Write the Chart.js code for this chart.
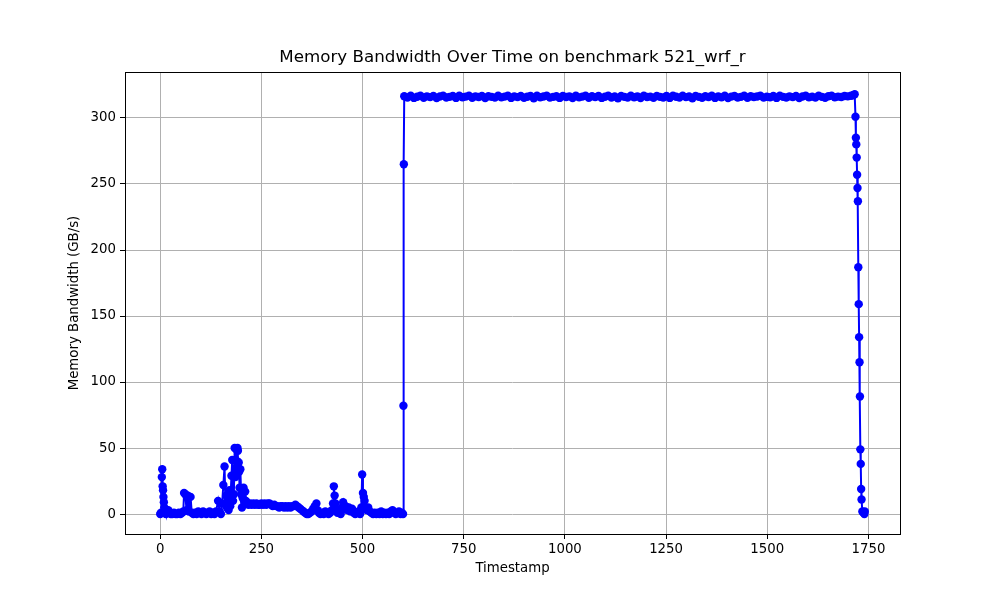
<!DOCTYPE html>
<html>
<head>
<meta charset="utf-8">
<title>Memory Bandwidth Over Time</title>
<script src="https://cdn.jsdelivr.net/npm/chart.js@4"></script>
<style>
  html, body { margin: 0; padding: 0; background: #fff; }
  #bwChart { display: block; }
</style>
</head>
<body>
<canvas id="bwChart" width="1000" height="600"></canvas>
<script>
// Warm-up phase (low bandwidth, noisy)
const warmupTimes = [0, 2, 4, 5, 6, 7, 8, 9, 10, 12, 14, 17, 20, 23, 26, 30, 34, 38, 42, 46, 50, 54, 57, 59, 62, 65, 68, 71, 75, 78,
    82, 86, 90, 94, 98, 102, 106, 110, 114, 118, 122, 126, 130, 134, 138, 143, 147, 150, 153, 156, 159, 161, 163, 165, 167, 169, 171, 173, 176, 178,
    180, 182, 184, 186, 188, 190, 191, 192, 193, 194, 195, 196, 198, 200, 202, 204, 206, 208, 210, 212, 215, 218, 222, 226, 230, 234, 238, 242, 246, 250,
    254, 258, 262, 266, 270, 274, 278, 282, 286, 290, 294, 298, 302, 306, 310, 314, 318, 322, 326, 330, 334, 338, 342, 346, 350, 354, 358, 362, 366, 370,
    374, 378, 382, 386, 389, 392, 396, 400, 404, 408, 412, 416, 420, 424, 427, 429, 431, 433, 435, 438, 442, 446, 449, 452, 455, 458, 462, 466, 470, 474,
    478, 482, 486, 490, 494, 497, 499, 501, 503, 505, 507, 510, 514, 518, 522, 526, 530, 534, 538, 542, 546, 550, 554, 558, 562, 566, 570, 574, 578, 582,
    586, 590, 594, 597, 600, 601, 602];
const warmupBW = [0, 1, 28, 34, 21, 18, 13, 9, 5, 2, 0, 1, 3, 1, 0, 0, 1, 0, 0, 1, 0, 1, 2, 16, 15, 3, 14, 2, 13, 1,
    0, 1, 0, 2, 1, 0, 2, 1, 0, 1, 2, 0, 1, 0, 2, 10, 2, 0, 8, 22, 36, 8, 14, 5, 12, 3, 18, 6, 29, 41,
    10, 15, 50, 28, 49, 40, 50, 48, 35, 39, 32, 20, 34, 15, 5, 12, 20, 9, 17, 10, 8, 7, 8, 7, 8, 7, 8, 7, 7, 8,
    7, 8, 7, 8, 8, 7, 6, 7, 6, 6, 5, 6, 6, 5, 6, 5, 6, 5, 6, 6, 7, 6, 5, 4, 3, 2, 1, 0, 0, 1,
    2, 4, 6, 8, 3, 1, 0, 1, 0, 2, 1, 0, 1, 3, 8, 21, 14, 8, 3, 1, 2, 0, 5, 9, 4, 6, 3, 5, 2, 4,
    1, 0, 1, 2, 0, 5, 30, 16, 13, 10, 5, 3, 5, 2, 1, 0, 1, 0, 1, 0, 2, 0, 1, 0, 1, 0, 2, 3, 1, 0,
    1, 2, 0, 1, 0, 82, 265];

// Steady phase (saturated bandwidth)
const steadyTimes = [603, 611, 619, 627, 635, 643, 651, 659, 667, 675, 683, 691, 699, 707, 715, 723, 731, 739, 747, 755,
    763, 771, 779, 787, 795, 803, 811, 819, 827, 835, 843, 851, 859, 867, 875, 883, 891, 899, 907, 915,
    923, 931, 939, 947, 955, 963, 971, 979, 987, 995, 1003, 1011, 1019, 1027, 1035, 1043, 1051, 1059, 1067, 1075,
    1083, 1091, 1099, 1107, 1115, 1123, 1131, 1139, 1147, 1155, 1163, 1171, 1179, 1187, 1195, 1203, 1211, 1219, 1227, 1235,
    1243, 1251, 1259, 1267, 1275, 1283, 1291, 1299, 1307, 1315, 1323, 1331, 1339, 1347, 1355, 1363, 1371, 1379, 1387, 1395,
    1403, 1411, 1419, 1427, 1435, 1443, 1451, 1459, 1467, 1475, 1483, 1491, 1499, 1507, 1515, 1523, 1531, 1539, 1547, 1555,
    1563, 1571, 1579, 1587, 1595, 1603, 1611, 1619, 1627, 1635, 1643, 1651, 1659, 1667, 1675, 1683, 1691, 1699, 1707, 1712];
const steadyBW = [316.5, 315.4, 316.8, 315.2, 316.1, 316.9, 315.3, 316.4, 315.8, 316.7,
    315.1, 316.3, 316.9, 315.5, 316.0, 316.6, 315.2, 316.8, 315.7, 316.2,
    316.9, 315.3, 316.4, 315.9, 316.7, 315.1, 316.5, 316.0, 315.4, 316.8,
    315.6, 316.2, 316.9, 315.2, 316.4, 315.8, 316.7, 315.3, 316.1, 316.6,
    315.0, 316.8, 315.7, 316.3, 316.9, 315.4, 316.0, 316.5, 315.2, 316.7,
    315.9, 316.4, 315.1, 316.8, 315.6, 316.2, 316.9, 315.3, 316.5, 315.8,
    316.7, 315.2, 316.1, 316.9, 315.5, 316.3, 315.0, 316.6, 316.0, 315.4,
    316.8, 315.7, 316.4, 315.1, 316.9, 315.9, 316.2, 315.3, 316.7, 316.0,
    315.5, 316.6, 315.2, 316.8, 316.1, 315.4, 316.9, 315.8, 316.3, 315.0,
    316.7, 316.0, 315.3, 316.5, 315.9, 316.8, 315.2, 316.4, 315.6, 316.9,
    315.1, 316.2, 316.7, 315.5, 316.0, 316.8, 315.3, 316.5, 315.9, 316.3,
    316.9, 315.4, 316.1, 315.7, 316.6, 315.2, 316.8, 316.0, 315.5, 316.4,
    315.8, 316.7, 315.1, 316.3, 316.9, 315.6, 316.2, 315.4, 316.8, 316.0,
    315.3, 316.5, 316.9, 315.7, 316.2, 315.9, 316.6, 316.4, 316.8, 317.2];

// Ramp-down phase
const rampTimes = [1716, 1718, 1719, 1720, 1721, 1722, 1723, 1724, 1725, 1726, 1727, 1728, 1729, 1730, 1731, 1732, 1733, 1735, 1738, 1740, 1741];
const rampBW = [318, 301, 285, 280, 270, 257, 247, 237, 187, 159, 134, 115, 89, 49, 38, 19, 11, 2, 1, 0, 2];

const xTicks = [0, 250, 500, 750, 1000, 1250, 1500, 1750];
const yTicks = [0, 50, 100, 150, 200, 250, 300];

const chartTitle = 'Memory Bandwidth Over Time on benchmark 521_wrf_r';
const xLabel = 'Timestamp';
const yLabel = 'Memory Bandwidth (GB/s)';

const allTimes = warmupTimes.concat(steadyTimes, rampTimes);
const allBW = warmupBW.concat(steadyBW, rampBW);
const points = allTimes.map((t, i) => ({ x: t, y: allBW[i] }));

const FONT = 'DejaVu Sans';

// draw the full axes frame (matplotlib style spines)
const framePlugin = {
    id: 'frame',
    afterDatasetsDraw(chart) {
        const { ctx, chartArea } = chart;
        ctx.save();
        ctx.strokeStyle = '#000';
        ctx.lineWidth = 1;
        ctx.strokeRect(Math.round(chartArea.left) + 0.5, Math.round(chartArea.top) + 0.5,
            Math.round(chartArea.right - chartArea.left), Math.round(chartArea.bottom - chartArea.top));
        ctx.restore();
    }
};

new Chart(document.getElementById('bwChart'), {
    type: 'scatter',
    data: {
        datasets: [{
            label: 'Memory Bandwidth',
            data: points,
            showLine: true,
            borderColor: '#0000ff',
            backgroundColor: '#0000ff',
            borderWidth: 2,
            pointRadius: 4.2,
            pointBorderWidth: 0,
            pointHoverRadius: 4.2,
            tension: 0
        }]
    },
    options: {
        responsive: false,
        animation: false,
        devicePixelRatio: 1,
        layout: { padding: { left: 0, right: 100, top: 0, bottom: 0 } },
        plugins: {
            legend: { display: false },
            tooltip: { enabled: false },
            title: {
                display: true,
                text: chartTitle,
                fullSize: false,
                color: '#000',
                font: { family: FONT, size: 16.7, weight: 'normal' },
                padding: { top: 48, bottom: 4 }
            }
        },
        scales: {
            x: {
                type: 'linear',
                min: -87,
                max: 1828,
                afterFit: s => { s.height = 66; },
                afterBuildTicks: s => { s.ticks = xTicks.map(v => ({ value: v })); },
                grid: { color: '#b0b0b0', lineWidth: 1, tickColor: '#000', tickLength: 5 },
                border: { display: false },
                ticks: {
                    color: '#000',
                    padding: 3,
                    maxRotation: 0,
                    font: { family: FONT, size: 13.3 },
                    callback: v => String(v)
                },
                title: {
                    display: true,
                    text: xLabel,
                    color: '#000',
                    font: { family: FONT, size: 13.3 },
                    padding: { top: 0, bottom: 23 }
                }
            },
            y: {
                type: 'linear',
                min: -15.1,
                max: 334.8,
                afterFit: s => { s.width = 125; },
                afterBuildTicks: s => { s.ticks = yTicks.map(v => ({ value: v })); },
                grid: { color: '#b0b0b0', lineWidth: 1, tickColor: '#000', tickLength: 5 },
                border: { display: false },
                ticks: {
                    color: '#000',
                    padding: 4,
                    font: { family: FONT, size: 13.3 },
                    callback: v => String(v)
                },
                title: {
                    display: true,
                    text: yLabel,
                    color: '#000',
                    font: { family: FONT, size: 13.3 },
                    padding: { top: 67, bottom: 0 }
                }
            }
        }
    },
    plugins: [framePlugin]
});
</script>
</body>
</html>
